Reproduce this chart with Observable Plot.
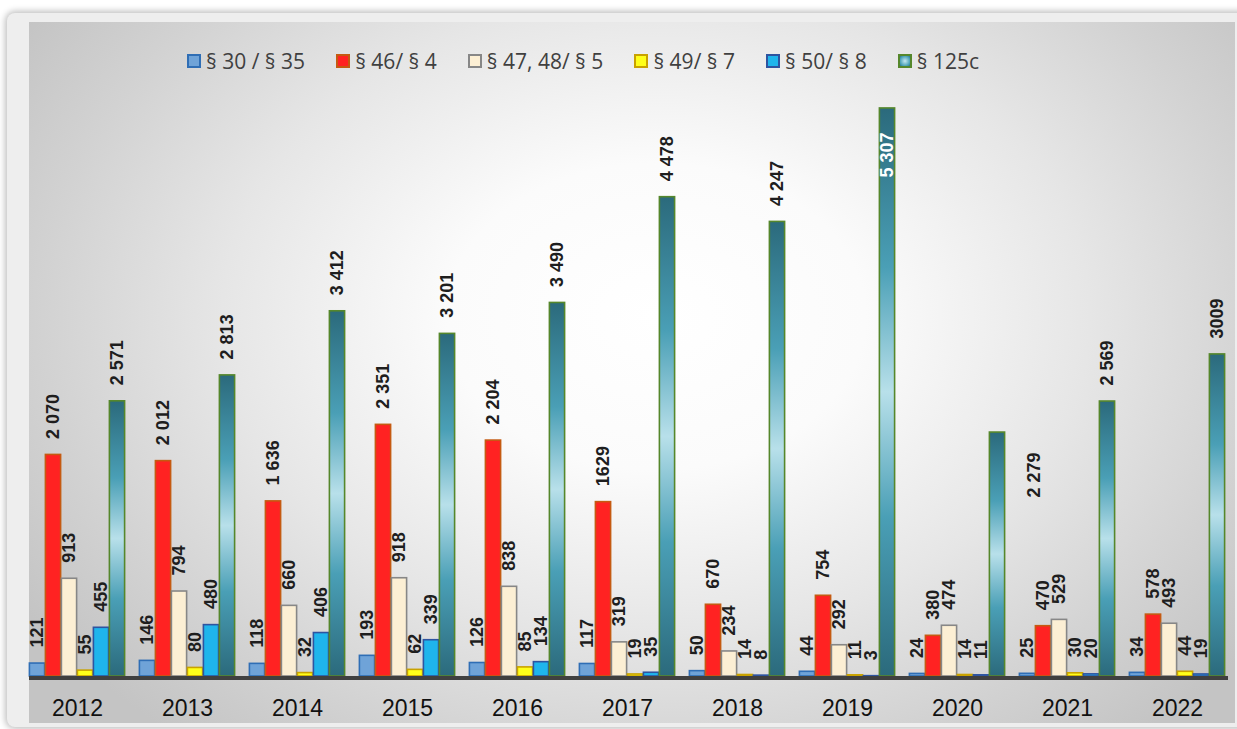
<!DOCTYPE html>
<html><head><meta charset="utf-8">
<script src="https://cdn.jsdelivr.net/npm/d3@7"></script>
<script src="https://cdn.jsdelivr.net/npm/@observablehq/plot@0.6"></script>
<style>
html,body{margin:0;padding:0;background:#fff;width:1237px;height:729px;overflow:hidden;position:relative;}
#frame{position:absolute;left:7px;top:13px;width:1250px;height:714px;background:#eeeeee;border-radius:8px;box-shadow:0 0 6px 2px rgba(0,0,0,.25);}
#area{position:absolute;left:29px;top:22px;width:1206px;height:701px;
 background:radial-gradient(ellipse 62% 78% at 52% 42%, #ffffff 0%, #fbfbfb 28%, #e6e6e6 58%, #d2d2d2 82%, #c4c4c4 100%);}
#legend{position:absolute;left:187px;top:47px;display:flex;align-items:center;font-family:"Open Sans",sans-serif;font-size:21px;color:#404040;white-space:nowrap;}
.item{display:flex;align-items:center;margin-right:31px}
.sw{width:10px;height:10px;border:2px solid;margin-right:5px;box-sizing:content-box}
#chart{position:absolute;left:0;top:90px}
#axisline{position:absolute;left:29px;top:676px;width:1199px;height:4px;background:#404040}
</style></head>
<body>
<svg width="0" height="0" style="position:absolute">
  <defs>
    <linearGradient id="tealGrad" x1="0" y1="0" x2="0" y2="1">
      <stop offset="0" stop-color="#2b6a7c"/>
      <stop offset="0.28" stop-color="#4a9fb6"/>
      <stop offset="0.5" stop-color="#b8e0ea"/>
      <stop offset="0.72" stop-color="#4a9fb6"/>
      <stop offset="1" stop-color="#2b6a7c"/>
    </linearGradient>
  </defs>
</svg>
<div id="frame"></div>
<div id="area"></div>
<div id="legend"></div>
<div id="chart"></div>
<div id="axisline"></div>
<script>
// ---- data ----
const years = ["2012","2013","2014","2015","2016","2017","2018","2019","2020","2021","2022"];
const seriesNames = ["§ 30 / § 35","§ 46/ § 4","§ 47, 48/ § 5","§ 49/ § 7","§ 50/ § 8","§ 125c"];
const s30_35  = [121,146,118,193,126,117,50,44,24,25,34];
const s46_4   = [2070,2012,1636,2351,2204,1629,670,754,380,470,578];
const s47_48_5= [913,794,660,918,838,319,234,292,474,529,493];
const s49_7   = [55,80,32,62,85,19,14,11,14,30,44];
const s50_8   = [455,480,406,339,134,35,8,3,11,20,19];
const s125c   = [2571,2813,3412,3201,3490,4478,4247,5307,2279,2569,3009];
// values printed without thousands separator in the source
const plainLabels = [1629, 3009];

const seriesValues = [s30_35, s46_4, s47_48_5, s49_7, s50_8, s125c];
const fills   = ["#6fa3d8","#ff2222","#fcefd4","#ffff1a","#1fb5ec","url(#tealGrad)"];
const strokes = ["#2f6eb5","#c55a11","#878787","#c9a200","#2e54a0","#55872c"];

const rows = [];
years.forEach((y, i) => seriesNames.forEach((s, j) => rows.push({year: y, series: s, value: seriesValues[j][i]})));

const fmtSpace = d3.formatLocale({thousands: " ", grouping: [3], decimal: ","}).format(",");
const fmt = v => plainLabels.includes(v) ? String(v) : fmtSpace(v);
const maxVal = d3.max(s125c);
const isDisplaced = d => d.year === "2020" && d.series === "§ 125c";

// legend
const legend = document.getElementById("legend");
seriesNames.forEach((s, j) => {
  const it = document.createElement("div"); it.className = "item";
  const sw = document.createElement("span"); sw.className = "sw";
  sw.style.borderColor = strokes[j];
  sw.style.background = j === 5 ? "radial-gradient(circle, #c4e8f1 0%, #4aa2b8 70%, #2b7385 100%)" : fills[j];
  const tx = document.createElement("span"); tx.textContent = s;
  it.append(sw, tx); legend.append(it);
});

const marks = seriesNames.map((s, j) => Plot.barY(rows, {
  filter: d => d.series === s,
  x: "series", y: "value",
  fill: fills[j], stroke: strokes[j], strokeWidth: 1.6,
  insetLeft: 0.4, insetRight: 0.4
}));

const labelBase = {x: "series", y: "value", text: d => fmt(d.value), rotate: -90,
  fontSize: 18, fontWeight: "bold", fontFamily: "Liberation Sans, Arial, sans-serif"};

marks.push(Plot.text(rows, {...labelBase,
  filter: d => d.value !== maxVal && !isDisplaced(d),
  textAnchor: "start", dy: -16, fill: "#1e1e1e"}));
marks.push(Plot.text(rows, {...labelBase,
  filter: d => d.value === maxVal,
  textAnchor: "end", dy: 24, fill: "#ffffff"}));
marks.push(Plot.text(rows, {...labelBase,
  filter: isDisplaced,
  textAnchor: "start", dx: 37, dy: 65, fill: "#1e1e1e"}));

const chart = Plot.plot({
  width: 1237, height: 639,
  marginLeft: 22, marginRight: 6, marginTop: 8, marginBottom: 53,
  facet: {data: rows, x: "year"},
  fx: {domain: years, padding: 0.092, axis: "bottom", tickSize: 0, tickPadding: 23, label: null},
  x: {domain: seriesNames, padding: 0, axis: null},
  y: {domain: [0, 5400], axis: null},
  style: {background: "transparent", fontFamily: "Liberation Sans, Arial, sans-serif", fontSize: "23px", color: "#111"},
  marks
});
document.getElementById("chart").append(chart);
</script>
</body></html>
